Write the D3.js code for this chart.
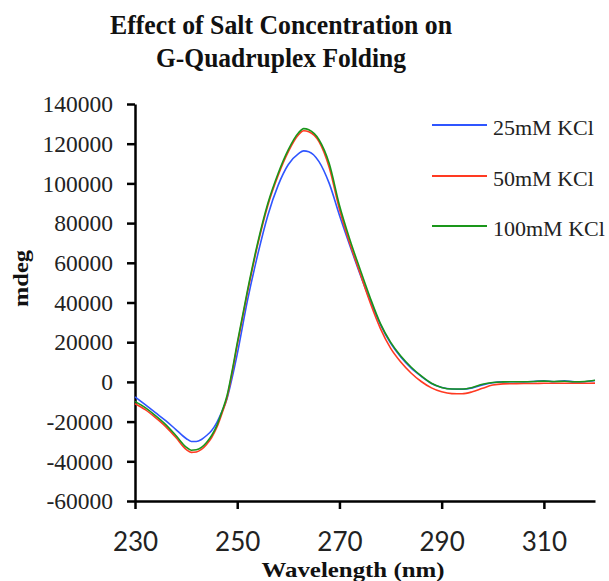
<!DOCTYPE html>
<html>
<head>
<meta charset="utf-8">
<script src="https://cdn.jsdelivr.net/npm/d3@7"></script>
<style>
  html, body { margin: 0; padding: 0; background: #fff; }
  svg { display: block; }
</style>
</head>
<body>
<svg id="chart" width="609" height="581"></svg>
<script>
// ---- data ----
const wavelengths = [230, 232, 234, 236, 238, 240, 241, 242, 243, 244, 245, 246, 247, 248, 249, 250, 252, 254, 256, 258, 260, 262, 263, 264, 266, 268, 270, 272, 274, 276, 278, 280, 282, 284, 286, 288, 290, 292, 294, 296, 298, 300, 302, 304, 306, 308, 310, 312, 314, 316, 318, 320];

const kcl25 = [-7500, -11500, -15500, -19500, -24000, -28500, -30000, -30000, -29000, -27000, -24500, -20500, -15000, -8500, 2000, 14000, 41000, 64000, 84000, 99000, 109500, 115000, 116400, 116000, 111000, 100000, 84000, 69000, 54500, 41000, 29000, 19500, 12500, 7000, 2800, -800, -2800, -3600, -3700, -3000, -1500, -400, 0, 100, 0, 200, 600, 100, 500, 0, 100, 700];

const kcl50 = [-11000, -14000, -18000, -22500, -28000, -34000, -35500, -35300, -34000, -31500, -28000, -23000, -16000, -8000, 4500, 18500, 45000, 69000, 89000, 104000, 116000, 124500, 126500, 126000, 121000, 108000, 87000, 70000, 55000, 40000, 27000, 17000, 10000, 4500, 200, -3000, -5000, -5900, -6000, -5000, -3200, -1600, -1000, -900, -800, -800, -700, -700, -700, -700, -700, -600];

const kcl100 = [-9800, -13000, -17000, -21500, -27000, -32800, -34400, -34200, -33000, -30500, -27000, -22000, -15000, -7000, 5500, 19500, 46000, 70000, 90000, 105000, 117000, 125500, 127600, 127000, 122000, 110000, 89000, 72000, 57000, 42500, 29500, 20000, 13000, 7500, 3000, -700, -2800, -3600, -3600, -2800, -1200, -300, 0, 100, 100, 200, 400, 200, 300, 100, 200, 800];

const seriesNames = ["25mM KCl", "50mM KCl", "100mM KCl"];
const seriesColors = ["#2f55ff", "#ff3a22", "#1a961a"];
const xTicks = [230, 250, 270, 290, 310];
const yTicks = [-60000, -40000, -20000, 0, 20000, 40000, 60000, 80000, 100000, 120000, 140000];

// ---- chart ----
const svg = d3.select("#chart");
const x = d3.scaleLinear().domain([230, 320]).range([135, 595]);
const y = d3.scaleLinear().domain([-60000, 140000]).range([501, 104]);
const plainFormat = d => String(d);

// title
const title = svg.append("g")
  .attr("font-family", "'Liberation Serif', serif")
  .attr("font-weight", "bold")
  .attr("font-size", 27)
  .attr("fill", "#111")
  .attr("text-anchor", "middle");
title.append("text").attr("x", 281).attr("y", 33.5)
  .attr("textLength", 342).attr("lengthAdjust", "spacingAndGlyphs")
  .text("Effect of Salt Concentration on");
title.append("text").attr("x", 281).attr("y", 66.5)
  .attr("textLength", 250).attr("lengthAdjust", "spacingAndGlyphs")
  .text("G-Quadruplex Folding");

// y axis
const yAxis = svg.append("g")
  .attr("transform", "translate(135,0)")
  .call(d3.axisLeft(y).tickValues(yTicks).tickSize(8).tickSizeOuter(0).tickFormat(plainFormat));
yAxis.select(".domain").attr("stroke", "#000").attr("stroke-width", 2.5);
yAxis.selectAll(".tick line").attr("stroke", "#000").attr("stroke-width", 2.5);
yAxis.selectAll(".tick text")
  .attr("font-family", "'Liberation Serif', serif")
  .attr("font-size", 23.5)
  .attr("fill", "#222")
  .attr("x", -22)
  .attr("dy", "0.33em");

// x axis
const xAxis = svg.append("g")
  .attr("transform", "translate(0,501)")
  .call(d3.axisBottom(x).tickValues(xTicks).tickSize(8).tickSizeOuter(0).tickFormat(plainFormat));
xAxis.select(".domain").attr("stroke", "#000").attr("stroke-width", 2.5);
xAxis.selectAll(".tick line").attr("stroke", "#000").attr("stroke-width", 2.5);
xAxis.selectAll(".tick text")
  .attr("font-family", "Lato, 'Open Sans', sans-serif")
  .attr("font-size", 26)
  .attr("fill", "#222")
  .attr("y", 0)
  .attr("dy", 49.5);

// axis titles
svg.append("text")
  .attr("x", 353).attr("y", 577)
  .attr("text-anchor", "middle")
  .attr("font-family", "'Liberation Serif', serif")
  .attr("font-weight", "bold")
  .attr("font-size", 21)
  .attr("fill", "#111")
  .attr("textLength", 183).attr("lengthAdjust", "spacingAndGlyphs")
  .text("Wavelength (nm)");
svg.append("text")
  .attr("transform", "translate(28,278.5) rotate(-90)")
  .attr("text-anchor", "middle")
  .attr("font-family", "'Liberation Serif', serif")
  .attr("font-weight", "bold")
  .attr("font-size", 21)
  .attr("fill", "#111")
  .attr("textLength", 57).attr("lengthAdjust", "spacingAndGlyphs")
  .text("mdeg");

// lines
const allSeries = [kcl25, kcl50, kcl100];
const line = d3.line()
  .x((d, i) => x(wavelengths[i]))
  .y(d => y(d))
  .curve(d3.curveMonotoneX);
svg.append("g").selectAll("path")
  .data(allSeries)
  .join("path")
  .attr("d", d => line(d))
  .attr("fill", "none")
  .attr("stroke", (d, i) => seriesColors[i])
  .attr("stroke-width", 1.6);

// legend
const legendY = [125, 176, 226];
const lg = svg.append("g");
seriesNames.forEach((name, i) => {
  lg.append("line")
    .attr("x1", 432).attr("x2", 487)
    .attr("y1", legendY[i]).attr("y2", legendY[i])
    .attr("stroke", seriesColors[i]).attr("stroke-width", 1.8);
  lg.append("text")
    .attr("x", 493).attr("y", legendY[i] + 10)
    .attr("font-family", "'Liberation Serif', serif")
    .attr("font-size", 22)
    .attr("fill", "#222")
    .text(name);
});
</script>
</body>
</html>
